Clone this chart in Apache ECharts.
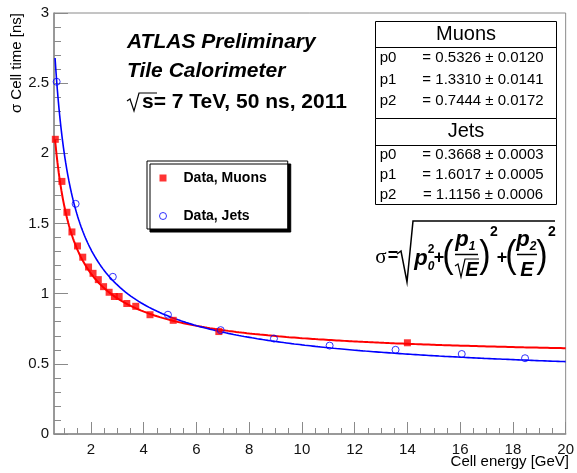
<!DOCTYPE html>
<html>
<head>
<meta charset="utf-8">
<script src="https://cdn.jsdelivr.net/npm/echarts@6/dist/echarts.min.js"></script>
<style>
  html, body { margin: 0; padding: 0; background: #fff; }
  #chart { width: 577px; height: 473px; }
</style>
</head>
<body>
<div id="chart"></div>
<script>
// Axis ticks
const xTickValues = [2, 4, 6, 8, 10, 12, 14, 16, 18, 20];
const yTickValues = [0, 0.5, 1, 1.5, 2, 2.5, 3];

// Cell time resolution vs cell energy, muon data
const muonEnergy = [0.65, 0.90, 1.09, 1.28, 1.49, 1.69, 1.91, 2.08, 2.28, 2.48, 2.69, 2.89, 3.07, 3.36, 3.70, 4.24, 5.12, 6.85, 14.0];
const muonSigma  = [2.10, 1.80, 1.58, 1.44, 1.34, 1.26, 1.19, 1.145, 1.10, 1.05, 1.01, 0.98, 0.98, 0.93, 0.91, 0.85, 0.81, 0.73, 0.65];

// Jet data
const jetEnergy = [0.70, 1.42, 2.83, 4.92, 6.92, 8.94, 11.05, 13.55, 16.06, 18.46];
const jetSigma  = [2.51, 1.64, 1.12, 0.85, 0.74, 0.68, 0.63, 0.60, 0.57, 0.54];

// Fit parameters p0, p1, p2 and their uncertainties
const muonFit    = [0.5326, 1.3310, 0.7444];
const muonFitErr = [0.0120, 0.0141, 0.0172];
const jetFit     = [0.3668, 1.6017, 1.1156];
const jetFitErr  = [0.0003, 0.0005, 0.0006];
const fitRange   = [0.64, 20];

const FONT = '"Liberation Sans", Arial, Helvetica, sans-serif';
const AXIS = '#8a8a8a';

// sigma = sqrt(p0^2 + (p1/sqrt(E))^2 + (p2/E)^2)
function resolution(p, e) {
  return Math.sqrt(p[0] * p[0] + p[1] * p[1] / e + (p[2] / e) * (p[2] / e));
}
function fitCurve(p) {
  const pts = [];
  let e = fitRange[0];
  while (e < fitRange[1]) {
    pts.push([e, resolution(p, e)]);
    e += e < 3 ? 0.01 : 0.1;
  }
  pts.push([fitRange[1], resolution(p, fitRange[1])]);
  return pts;
}

// minor ticks between the labelled ones
const xMinor = [];
for (let i = 0; i < xTickValues.length; i++) {
  const a = xTickValues[i];
  [0.5, 1, 1.5].forEach(d => { if (a - 2 + d >= 0.6) xMinor.push(a - 2 + d); });
}
const yMinor = [];
for (let i = 0; i < yTickValues.length - 1; i++) {
  for (let k = 1; k < 5; k++) yMinor.push(+(yTickValues[i] + k * 0.1).toFixed(2));
}

function fmt(v) { return v.toFixed(4); }

function txt(x, y, s, font, align, extra) {
  return Object.assign({
    type: 'text', x: x, y: y, z: 10,
    style: { text: s, font: font, fill: '#000', align: align || 'center', verticalAlign: 'middle' }
  }, extra || {});
}
function poly(points, w) {
  return { type: 'polyline', z: 10, shape: { points: points }, style: { stroke: '#000', lineWidth: w || 1.2, fill: null } };
}
function hline(x1, x2, y, w) {
  return { type: 'line', z: 10, shape: { x1: x1, y1: y, x2: x2, y2: y }, style: { stroke: '#000', lineWidth: w || 1 } };
}

// stats boxes
const tableLeft = 375.5, tableRight = 556.5;
const statRows = [];
function statBox(title, top, titleY, sepY, bottom, rowsY, vals, errs) {
  statRows.push({ type: 'rect', z: 9, shape: { x: tableLeft, y: top, width: tableRight - tableLeft, height: bottom - top },
                  style: { fill: '#fff', stroke: '#000', lineWidth: 1 } });
  statRows.push(hline(tableLeft, tableRight, sepY, 1));
  statRows.push(txt(466, titleY, title, '20px ' + FONT));
  ['p0', 'p1', 'p2'].forEach((n, i) => {
    statRows.push(txt(388, rowsY[i], n, '15px ' + FONT));
    statRows.push(txt(483, rowsY[i], '= ' + fmt(vals[i]) + ' \u00b1 ' + fmt(errs[i]), '15px ' + FONT));
  });
}
statBox('Muons', 21.5, 34, 47.5, 118.5, [58, 80, 101], muonFit, muonFitErr);
statBox('Jets', 118.5, 131, 145.5, 204.5, [155, 175, 195], jetFit, jetFitErr);

const BI = 'italic bold 22px ' + FONT;
const PAREN = '38px ' + FONT;
const formula = [
  txt(381, 257, '\u03c3', '21px "Liberation Serif", serif'),
  txt(393, 256, '=', 'bold 18px ' + FONT),
  poly([[397, 254], [401, 251], [407, 282], [413, 221], [555, 221]], 1.5),
  txt(421, 259, 'p', BI),
  txt(431, 250, '2', 'bold 12px ' + FONT),
  txt(431, 267, '0', 'italic bold 12px ' + FONT),
  txt(439, 258, '+', 'bold 18px ' + FONT),
  txt(448, 257, '(', PAREN, 'center', { scaleX: 0.9 }),
  txt(462, 240, 'p', BI),
  txt(472, 247, '1', 'italic bold 12px ' + FONT),
  hline(455, 478, 254.5, 1.5),
  poly([[455, 266], [458, 264], [461, 277], [465, 259], [479, 259]], 1.2),
  txt(472, 270, 'E', 'italic bold 20px ' + FONT),
  txt(485, 257, ')', PAREN, 'center', { scaleX: 0.9 }),
  txt(494, 232, '2', 'bold 14px ' + FONT),
  txt(502, 258, '+', 'bold 18px ' + FONT),
  txt(511, 257, '(', PAREN, 'center', { scaleX: 0.9 }),
  txt(523, 240, 'p', BI),
  txt(533, 247, '2', 'italic bold 12px ' + FONT),
  hline(517, 537, 254.5, 1.5),
  txt(527, 270, 'E', 'italic bold 20px ' + FONT),
  txt(542, 257, ')', PAREN, 'center', { scaleX: 0.9 }),
  txt(552, 232, '2', 'bold 14px ' + FONT)
];

const headline = [
  txt(127, 42, 'ATLAS Preliminary', 'italic bold 21px ' + FONT, 'left'),
  txt(127, 71, 'Tile Calorimeter', 'italic bold 21px ' + FONT, 'left'),
  poly([[127, 101], [130, 99], [134, 111], [139, 93], [157, 93]], 1.2),
  txt(142, 102, 's= 7 TeV, 50 ns, 2011', 'bold 21px ' + FONT, 'left')
];

const axisTitles = [
  txt(17, 13, '\u03c3 Cell time [ns]', '15px ' + FONT, 'right', { rotation: Math.PI / 2 }),
  txt(569, 462, 'Cell energy [GeV]', '15px ' + FONT, 'right')
];

const chart = echarts.init(document.getElementById('chart'), null, { renderer: 'canvas' });
chart.setOption({
  animation: false,
  backgroundColor: '#fff',
  grid: { left: 54, right: 7, top: 13, bottom: 39, show: true, borderColor: AXIS, borderWidth: 1 },
  legend: {
    data: [
      { name: 'Data, Muons', icon: 'rect', itemStyle: { color: '#ff0000' } },
      { name: 'Data, Jets', icon: 'circle', itemStyle: { color: '#fff', borderColor: '#0000ff', borderWidth: 1 } }
    ],
    orient: 'vertical', left: 147, top: 161,
    padding: [9, 21, 5, 12], itemGap: 22, itemWidth: 7, itemHeight: 7,
    backgroundColor: '#fff', borderColor: '#000', borderWidth: 1,
    shadowColor: '#000', shadowBlur: 0, shadowOffsetX: 3, shadowOffsetY: 3,
    selectedMode: false,
    textStyle: { fontFamily: FONT, fontWeight: 'bold', fontSize: 14, color: '#000', lineHeight: 16, padding: [0, 0, 0, 12] }
  },
  xAxis: [
    {
      type: 'value', min: 0.6, max: 20, position: 'bottom',
      axisLine: { show: true, onZero: false, lineStyle: { color: AXIS, width: 1.5 } },
      axisTick: { show: true, inside: true, length: 12, customValues: xTickValues, lineStyle: { color: AXIS } },
      axisLabel: { customValues: xTickValues, margin: 8, fontSize: 15, color: '#111', fontFamily: FONT },
      splitLine: { show: false }
    },
    {
      type: 'value', min: 0.6, max: 20, position: 'bottom',
      axisLine: { show: false },
      axisTick: { show: true, inside: true, length: 6, customValues: xMinor, lineStyle: { color: AXIS } },
      axisLabel: { show: false },
      splitLine: { show: false }
    }
  ],
  yAxis: [
    {
      type: 'value', min: 0, max: 3, position: 'left',
      axisLine: { show: true, onZero: false, lineStyle: { color: AXIS, width: 1.5 } },
      axisTick: { show: true, inside: true, length: 14, customValues: yTickValues, lineStyle: { color: AXIS } },
      axisLabel: { customValues: yTickValues, margin: 5, fontSize: 15, color: '#111', fontFamily: FONT },
      splitLine: { show: false }
    },
    {
      type: 'value', min: 0, max: 3, position: 'left',
      axisLine: { show: false },
      axisTick: { show: true, inside: true, length: 7, customValues: yMinor, lineStyle: { color: AXIS } },
      axisLabel: { show: false },
      splitLine: { show: false }
    }
  ],
  series: [
    {
      name: 'Muon fit', type: 'line', data: fitCurve(muonFit), showSymbol: false,
      lineStyle: { color: '#ff0000', width: 2 }, z: 2, silent: true
    },
    {
      name: 'Jet fit', type: 'line', data: fitCurve(jetFit), showSymbol: false,
      lineStyle: { color: '#0000ff', width: 1.6 }, z: 2, silent: true
    },
    {
      name: 'Data, Muons', type: 'scatter', symbol: 'rect', symbolSize: 7,
      data: muonEnergy.map((e, i) => [e, muonSigma[i]]),
      itemStyle: { color: '#ff0000' }, z: 3
    },
    {
      name: 'Data, Jets', type: 'scatter', symbol: 'circle', symbolSize: 7,
      data: jetEnergy.map((e, i) => [e, jetSigma[i]]),
      itemStyle: { color: 'rgba(255,255,255,0)', borderColor: '#0000ff', borderWidth: 1 }, z: 3
    }
  ],
  graphic: [].concat(headline, statRows, formula, axisTitles)
});
</script>
</body>
</html>
